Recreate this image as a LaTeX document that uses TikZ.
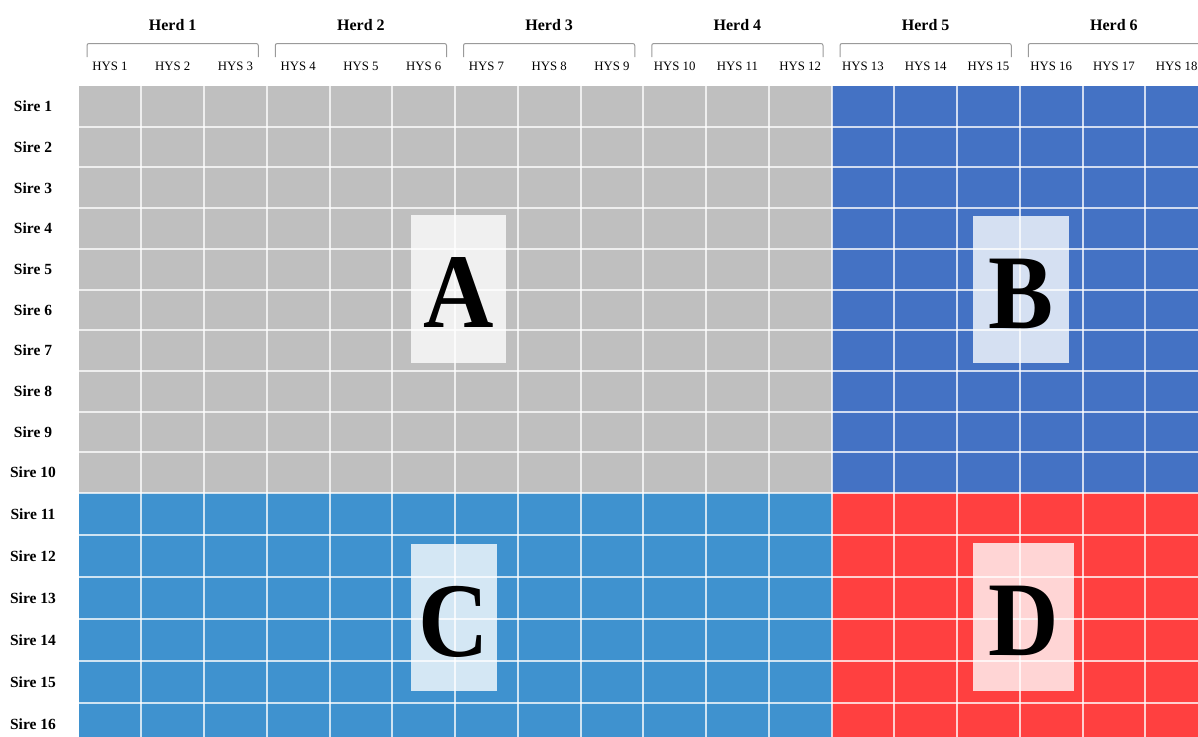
\documentclass[tikz,border=0pt]{standalone}
\usepackage{fontspec}
\setmainfont{Liberation Serif}
\definecolor{regA}{HTML}{BFBFBF}
\definecolor{regB}{HTML}{4472C4}
\definecolor{regC}{HTML}{3F92CF}
\definecolor{regD}{HTML}{FF4040}
\definecolor{brk}{HTML}{9A9A9A}
\begin{document}
\begin{tikzpicture}[x=1pt,y=-1pt,
  herd/.style={font=\fontsize{16}{18}\selectfont\bfseries},
  sire/.style={font=\fontsize{15.5}{17}\selectfont\bfseries},
  hys/.style={font=\fontsize{12.8}{14}\selectfont},
  gridline/.style={draw=white,line width=2pt,opacity=0.75},
  bracket/.style={draw=brk,line width=1pt,rounded corners=2pt},
  letterbox/.style={fill=white,fill opacity=0.78,draw=none,inner sep=0pt},
  bigletter/.style={font=\fontsize{106}{106}\selectfont\bfseries,xscale=0.92,inner sep=0pt}]
\useasboundingbox (0,0) rectangle (1198,736);
\clip (0,0) rectangle (1198,736);
% region fills
\fill[regA] (78.5,86) rectangle (831.5,493);
\fill[regB] (831.5,86) rectangle (1210,493);
\fill[regC] (78.5,493) rectangle (831.5,745);
\fill[regD] (831.5,493) rectangle (1210,745);
% letter boxes
\node[letterbox,minimum width=95,minimum height=148] (boxA) at (458.5,289) {};
\node[letterbox,minimum width=96,minimum height=147] (boxB) at (1021,289.5) {};
\node[letterbox,minimum width=86,minimum height=147] (boxC) at (454,617.5) {};
\node[letterbox,minimum width=101,minimum height=148] (boxD) at (1023.5,617) {};
% grid lines
\foreach \i in {1,...,17}{
  \pgfmathsetmacro{\xx}{78.5+62.75*\i}
  \draw[gridline] (\xx,86) -- (\xx,745);
}
\foreach \j in {1,...,15}{
  \pgfmathsetmacro{\yy}{\j<=10 ? 86+40.7*\j : 493+42*(\j-10)}
  \draw[gridline] (78.5,\yy) -- (1210,\yy);
}
% big letters
\node[bigletter] (letA) at ([yshift=-4]boxA.center) {A};
\node[bigletter] (letB) at ([yshift=-4]boxB.center) {B};
\node[bigletter] (letC) at ([yshift=-4]boxC.center) {C};
\node[bigletter] (letD) at ([yshift=-4]boxD.center) {D};
% sire labels
\foreach \j in {1,...,16}{
  \pgfmathsetmacro{\yc}{\j<=10 ? 86+40.7*(\j-0.5) : 493+42*(\j-10.5)}
  \node[sire] (sire\j) at (33,\yc) {Sire \j};
}
% HYS labels
\foreach \i in {1,...,18}{
  \pgfmathsetmacro{\xc}{78.5+62.75*(\i-0.5)}
  \node[hys] (hys\i) at (\xc,66) {HYS \i};
}
% herds and brackets
\foreach \h in {1,...,6}{
  \pgfmathsetmacro{\xl}{78.5+188.25*(\h-1)}
  \pgfmathsetmacro{\xr}{\xl+188.25}
  \pgfmathsetmacro{\xm}{\xl+94.125}
  \draw[bracket] (\xl+8.5,57) -- (\xl+8.5,43.5) -- (\xr-8.5,43.5) -- (\xr-8.5,57);
  \node[herd] (herd\h) at (\xm,25) {Herd \h};
}
\end{tikzpicture}
\end{document}
